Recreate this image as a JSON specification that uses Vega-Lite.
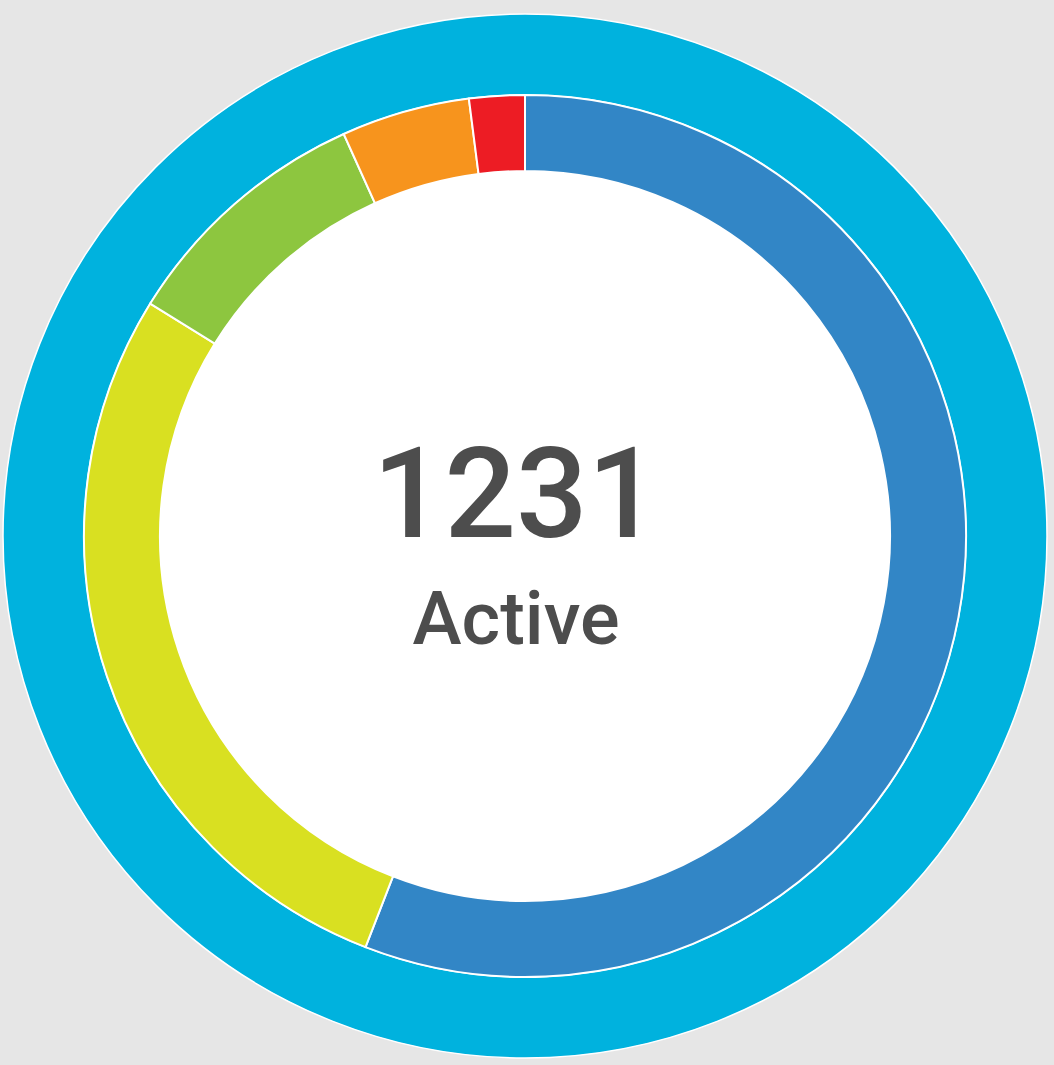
{
  "$schema": "https://vega.github.io/schema/vega-lite/v6.json",
  "width": 1054,
  "height": 1065,
  "autosize": {"type": "fit", "contains": "padding"},
  "padding": {"top": 7, "left": 0, "right": 4, "bottom": 0},
  "background": "#e6e6e6",
  "config": {"view": {"stroke": null}},
  "datasets": {
    "total": [{"label": "Active", "value": 1231}],
    "segments": [
      {"segment": "A", "order": 1, "value": 688},
      {"segment": "B", "order": 2, "value": 344},
      {"segment": "C", "order": 3, "value": 116},
      {"segment": "D", "order": 4, "value": 58},
      {"segment": "E", "order": 5, "value": 25}
    ]
  },
  "layer": [
    {
      "data": {"name": "total"},
      "mark": {"type": "arc", "radius": 522, "radius2": 441, "stroke": "#ffffff", "strokeWidth": 1.5, "fill": "#00b2de"},
      "encoding": {"theta": {"field": "value", "type": "quantitative"}}
    },
    {
      "data": {"name": "total"},
      "mark": {"type": "arc", "radius": 365, "fill": "#ffffff"},
      "encoding": {"theta": {"field": "value", "type": "quantitative"}}
    },
    {
      "data": {"name": "segments"},
      "mark": {"type": "arc", "radius": 441, "radius2": 365, "stroke": "#ffffff", "strokeWidth": 2},
      "encoding": {
        "theta": {"field": "value", "type": "quantitative", "stack": true},
        "order": {"field": "order", "type": "quantitative"},
        "color": {
          "field": "segment",
          "type": "nominal",
          "scale": {"domain": ["A", "B", "C", "D", "E"], "range": ["#3286c6", "#d9e021", "#8dc63f", "#f7941d", "#ed1c24"]},
          "legend": null
        }
      }
    },
    {
      "data": {"name": "total"},
      "mark": {"type": "text", "font": "Roboto", "fontWeight": 500, "fontSize": 126, "fill": "#4d4d4d", "align": "center", "baseline": "alphabetic", "dy": 1, "dx": -9},
      "encoding": {"text": {"field": "value", "type": "quantitative", "format": "d"}}
    },
    {
      "data": {"name": "total"},
      "mark": {"type": "text", "font": "Roboto", "fontWeight": 500, "fontSize": 74, "fill": "#4d4d4d", "align": "center", "baseline": "alphabetic", "dy": 108, "dx": -9},
      "encoding": {"text": {"field": "label", "type": "nominal"}}
    }
  ]
}
